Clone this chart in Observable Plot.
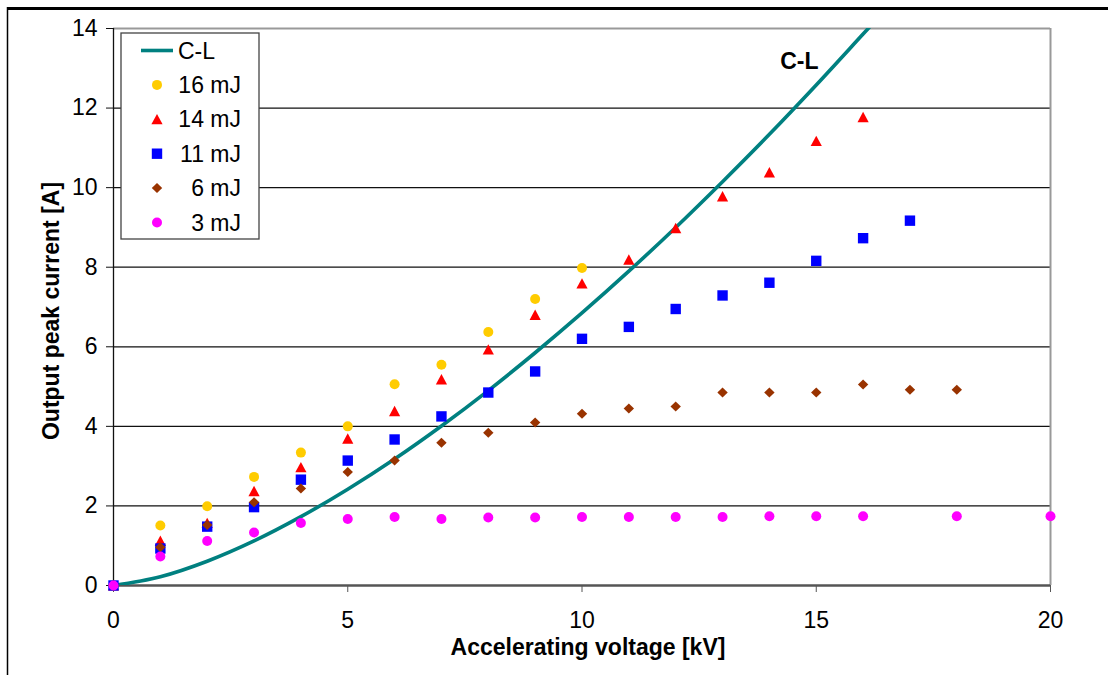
<!DOCTYPE html>
<html>
<head>
<meta charset="utf-8">
<script src="https://cdn.jsdelivr.net/npm/d3@7"></script>
<script src="https://cdn.jsdelivr.net/npm/@observablehq/plot@0.6"></script>
<style>
  html, body { margin: 0; padding: 0; background: white; }
  #chart { width: 1108px; height: 675px; }
</style>
</head>
<body>
<div id="chart"></div>
<script>
// ---- Data ----
const vCL = [0, 1, 2, 3, 4, 5, 6, 7, 8, 9, 10, 11, 12, 13, 14, 15, 16, 16.5];
const iCL = [0, 0.22, 0.61, 1.12, 1.73, 2.42, 3.18, 4.01, 4.9, 5.85, 6.85, 7.9, 9.0, 10.15, 11.34, 12.58, 13.86, 14.5];

const v16 = [0, 1, 2, 3, 4, 5, 6, 7, 8, 9, 10];
const i16 = [0, 1.51, 1.99, 2.73, 3.34, 4.0, 5.06, 5.55, 6.37, 7.2, 7.98];

const v14 = [0, 1, 2, 3, 4, 5, 6, 7, 8, 9, 10, 11, 12, 13, 14, 15, 16];
const i14 = [0, 1.12, 1.57, 2.37, 2.97, 3.69, 4.38, 5.18, 5.93, 6.8, 7.59, 8.19, 8.98, 9.78, 10.38, 11.17, 11.77];

const v11 = [0, 1, 2, 3, 4, 5, 6, 7, 8, 9, 10, 11, 12, 13, 14, 15, 16, 17];
const i11 = [0, 0.93, 1.48, 1.97, 2.66, 3.14, 3.67, 4.25, 4.85, 5.38, 6.2, 6.5, 6.95, 7.29, 7.61, 8.16, 8.73, 9.17];

const v6 = [0, 1, 2, 3, 4, 5, 6, 7, 8, 9, 10, 11, 12, 13, 14, 15, 16, 17, 18];
const i6 = [0, 0.96, 1.52, 2.09, 2.44, 2.85, 3.14, 3.59, 3.84, 4.1, 4.32, 4.45, 4.5, 4.85, 4.85, 4.85, 5.05, 4.92, 4.92];

const v3 = [0, 1, 2, 3, 4, 5, 6, 7, 8, 9, 10, 11, 12, 13, 14, 15, 16, 18, 20];
const i3 = [0, 0.73, 1.12, 1.33, 1.57, 1.67, 1.72, 1.67, 1.71, 1.71, 1.72, 1.72, 1.72, 1.72, 1.74, 1.74, 1.74, 1.74, 1.74];

const xTicks = [0, 5, 10, 15, 20];
const yTicks = [0, 2, 4, 6, 8, 10, 12, 14];
const gridY = [2, 4, 6, 8, 10, 12];

const seriesNames = ["16 mJ", "14 mJ", "11 mJ", "6 mJ", "3 mJ"];
const seriesColors = ["#FFCC00", "#FF0000", "#0000FF", "#993300", "#FF00FF"];
const clName = "C-L";
const clColor = "#008080";
const xTitle = "Accelerating voltage [kV]";
const yTitle = "Output peak current [A]";

// ---- Symbols (fixed-size shapes) ----
const symCircle = { draw(ctx) { ctx.moveTo(5, 0); ctx.arc(0, 0, 5, 0, 2 * Math.PI); ctx.closePath(); } };
const symTriangle = { draw(ctx) { ctx.moveTo(0, -5.4); ctx.lineTo(5.6, 5); ctx.lineTo(-5.6, 5); ctx.closePath(); } };
const symSquare = { draw(ctx) { ctx.rect(-5.2, -5.2, 10.4, 10.4); } };
const symDiamond = { draw(ctx) { ctx.moveTo(0, -5); ctx.lineTo(5.2, 0); ctx.lineTo(0, 5); ctx.lineTo(-5.2, 0); ctx.closePath(); } };
const seriesSymbols = [symCircle, symTriangle, symSquare, symDiamond, symCircle];

const zip = (vs, is) => vs.map((v, k) => ({ v, i: is[k] }));
const seriesData = [zip(v16, i16), zip(v14, i14), zip(v11, i11), zip(v6, i6), zip(v3, i3)];
const clData = zip(vCL, iCL);

const FONT = "'Liberation Sans', Arial, sans-serif";
const FS = 23;

const chart = Plot.plot({
  width: 1108,
  height: 675,
  marginLeft: 113,
  marginRight: 58,
  marginTop: 28,
  marginBottom: 90,
  style: { fontFamily: FONT, fontSize: FS + "px", background: "white", color: "black", overflow: "visible" },
  x: { domain: [0, 20] },
  y: { domain: [0, 14] },
  marks: [
    Plot.ruleY(gridY, { stroke: "#111", strokeWidth: 1.3 }),
    Plot.ruleY([14], { stroke: "#999", strokeWidth: 2 }),
    Plot.ruleX([20], { stroke: "#999", strokeWidth: 2 }),
    Plot.ruleX([0], { stroke: "#111", strokeWidth: 1.3 }),
    Plot.ruleY([0], { stroke: "#555", strokeWidth: 2.5 }),
    Plot.axisY({ ticks: yTicks, tickSize: 7, tickPadding: 9, label: null, fontSize: FS, stroke: "#111", tickFormat: d3.format("d") }),
    Plot.axisX({ ticks: xTicks, tickSize: 7, tickPadding: 19, label: null, fontSize: FS, stroke: "#555", tickFormat: d3.format("d") }),
    Plot.line(clData, { x: "v", y: "i", stroke: clColor, strokeWidth: 3.6, curve: "catmull-rom", clip: true }),
    ...seriesData.map((d, k) => Plot.dot(d, { x: "v", y: "i", fill: seriesColors[k], stroke: "none", symbol: seriesSymbols[k], r: 5 })),
    Plot.text([clName], { x: 14.64, y: 13.17, text: d => d, fontWeight: "bold", fontSize: FS, fill: "black" })
  ]
});

document.getElementById("chart").appendChild(chart);

// ---- Titles, outer border and legend added to the same SVG ----
const svg = d3.select(chart);

svg.append("text")
  .attr("x", 588).attr("y", 655)
  .attr("text-anchor", "middle")
  .attr("font-family", FONT).attr("font-size", FS).attr("font-weight", "bold")
  .attr("fill", "black")
  .text(xTitle);

svg.append("text")
  .attr("transform", "translate(59,311) rotate(-90)")
  .attr("text-anchor", "middle")
  .attr("font-family", FONT).attr("font-size", FS).attr("font-weight", "bold")
  .attr("fill", "black")
  .text(yTitle);

// outer chart border (top and left visible in the reference)
svg.append("line").attr("x1", 7).attr("x2", 1108).attr("y1", 8.5).attr("y2", 8.5).attr("stroke", "black").attr("stroke-width", 3);
svg.append("line").attr("x1", 7.5).attr("x2", 7.5).attr("y1", 7).attr("y2", 675).attr("stroke", "black").attr("stroke-width", 1.5);

// legend
const lg = svg.append("g").attr("font-family", FONT).attr("font-size", FS);
lg.append("rect").attr("x", 121).attr("y", 33).attr("width", 138).attr("height", 206)
  .attr("fill", "white").attr("stroke", "#444").attr("stroke-width", 1.3);
const rowY = k => 50.5 + k * 34.4;
lg.append("line").attr("x1", 141).attr("x2", 173).attr("y1", rowY(0)).attr("y2", rowY(0))
  .attr("stroke", clColor).attr("stroke-width", 3.6);
lg.append("text").attr("x", 178).attr("y", rowY(0)).attr("dy", "0.35em").attr("text-anchor", "start").attr("fill", "black").text(clName);
seriesNames.forEach((name, k) => {
  const y = rowY(k + 1);
  const p = d3.path();
  seriesSymbols[k].draw(p);
  lg.append("path").attr("d", p.toString()).attr("transform", `translate(157,${y})`).attr("fill", seriesColors[k]);
  lg.append("text").attr("x", 241).attr("y", y).attr("dy", "0.35em").attr("text-anchor", "end").attr("fill", "black").text(name);
});
</script>
</body>
</html>
